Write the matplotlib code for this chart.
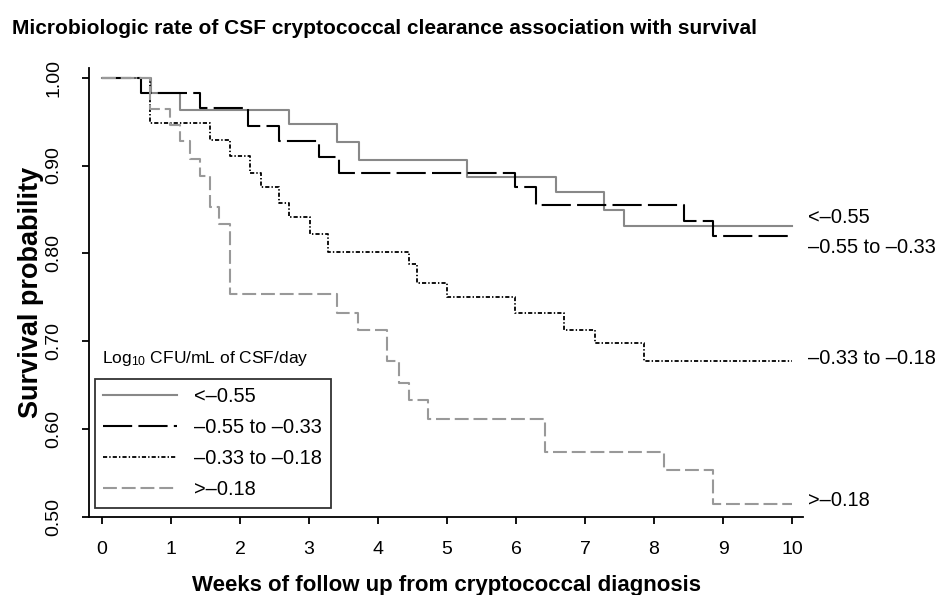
import matplotlib
matplotlib.use('Agg')
import matplotlib.pyplot as plt
from matplotlib.lines import Line2D

plt.rcParams['font.family'] = ['Liberation Sans', 'DejaVu Sans']
plt.rcParams['mathtext.fontset'] = 'custom'
plt.rcParams['mathtext.rm'] = 'Liberation Sans'
plt.rcParams['mathtext.default'] = 'regular'
plt.rcParams['lines.scale_dashes'] = False

# ---------------- data ----------------
title = "Microbiologic rate of CSF cryptococcal clearance association with survival"
xlabel = "Weeks of follow up from cryptococcal diagnosis"
ylabel = "Survival probability"
legend_title = r"Log$_{10}$ CFU/mL of CSF/day"
group_labels = ["<–0.55", "–0.55 to –0.33", "–0.33 to –0.18", ">–0.18"]

x_ticks = [0, 1, 2, 3, 4, 5, 6, 7, 8, 9, 10]
y_ticks = [0.50, 0.60, 0.70, 0.80, 0.90, 1.00]
y_ticklabels = ["0.50", "0.60", "0.70", "0.80", "0.90", "1.00"]

t_lt055 = [0, 0.71, 1.13, 2.71, 3.40, 3.72, 5.29, 6.58, 7.28, 7.57, 10]
s_lt055 = [1.0, 0.983, 0.963, 0.947, 0.927, 0.906, 0.887, 0.870, 0.849, 0.831, 0.831]

t_m055 = [0, 0.56, 1.42, 2.12, 2.56, 3.14, 3.43, 5.99, 6.29, 8.43, 8.85, 10]
s_m055 = [1.0, 0.983, 0.965, 0.945, 0.928, 0.910, 0.892, 0.875, 0.855, 0.837, 0.820, 0.820]

t_m033 = [0, 0.70, 1.56, 1.86, 2.14, 2.30, 2.57, 2.71, 3.01, 3.28, 4.45, 4.57, 5.00,
          5.99, 6.70, 7.15, 7.85, 10]
s_m033 = [1.0, 0.948, 0.929, 0.911, 0.891, 0.875, 0.857, 0.841, 0.822, 0.802, 0.788,
          0.766, 0.750, 0.732, 0.713, 0.698, 0.678, 0.678]

t_gt018 = [0, 0.70, 0.99, 1.13, 1.28, 1.42, 1.57, 1.69, 1.86, 3.41, 3.71, 4.13, 4.30,
           4.45, 4.72, 6.42, 8.14, 8.86, 10]
s_gt018 = [1.0, 0.964, 0.946, 0.928, 0.908, 0.888, 0.853, 0.833, 0.754, 0.732, 0.713,
           0.677, 0.652, 0.633, 0.612, 0.574, 0.554, 0.515, 0.515]

end_label_y = [0.841, 0.807, 0.680, 0.519]

# ---------------- styles ----------------
styles = [
    dict(color='#888888', lw=1.5, dashes=()),
    dict(color='black', lw=1.5, dashes=(21, 4.5)),
    dict(color='black', lw=1.3, dashes=(3, 1.5, 1, 1.5)),
    dict(color='#999999', lw=1.5, dashes=(10, 3.5)),
]

W, H = 938, 595
fig = plt.figure(figsize=(W / 100, H / 100), dpi=100)
ax = fig.add_axes([89 / W, (H - 517) / H, (803 - 89) / W, (517 - 68) / H])
ax.set_xlim(-0.188, 10.159)
ax.set_ylim(0.5, 1.011)

series = [(t_lt055, s_lt055), (t_m055, s_m055), (t_m033, s_m033), (t_gt018, s_gt018)]
handles = []
for (t, s), st in zip(series, styles):
    ln, = ax.step(t, s, where='post', color=st['color'], lw=st['lw'])
    if st['dashes']:
        ln.set_dashes(st['dashes'])
    h = Line2D([], [], color=st['color'], lw=st['lw'])
    if st['dashes']:
        h.set_dashes(st['dashes'])
    handles.append(h)

for sp in ['top', 'right']:
    ax.spines[sp].set_visible(False)
for sp in ['left', 'bottom']:
    ax.spines[sp].set_linewidth(1.3)

ax.set_xticks(x_ticks)
ax.set_xticklabels([str(v) for v in x_ticks], fontsize=14)
ax.set_yticks(y_ticks)
ax.set_yticklabels(y_ticklabels, rotation=90, va='center', fontsize=14)
ax.tick_params(axis='both', length=5, width=1.3, direction='out')
ax.tick_params(axis='y', pad=14)
ax.tick_params(axis='x', pad=12)

ax.set_xlabel(xlabel, fontsize=16, fontweight='bold')
ax.xaxis.set_label_coords(0.5, -0.13)
ax.set_ylabel(ylabel, fontsize=19.5, fontweight='bold')
ax.yaxis.set_label_coords(-0.063, 0.5)

fig.text(12 / W, 1 - 28 / H, title, fontsize=15, fontweight='bold', va='center', ha='left')

leg = ax.legend(handles, group_labels, loc='upper left',
                bbox_to_anchor=(95 / W, 1 - 379 / H), bbox_transform=fig.transFigure,
                fontsize=14.4, frameon=True, fancybox=False, handlelength=3.7,
                handletextpad=0.85, labelspacing=0.6, borderpad=0.42, borderaxespad=0)
leg.get_frame().set_edgecolor('black')
leg.get_frame().set_linewidth(1.3)

fig.text(102 / W, 1 - 358 / H, legend_title, fontsize=12.5, va='center', ha='left')

for lab, yv in zip(group_labels, end_label_y):
    ax.text(10.23, yv, lab, fontsize=14.4, va='center', ha='left', clip_on=False)

fig.savefig('out.png', dpi=100)
